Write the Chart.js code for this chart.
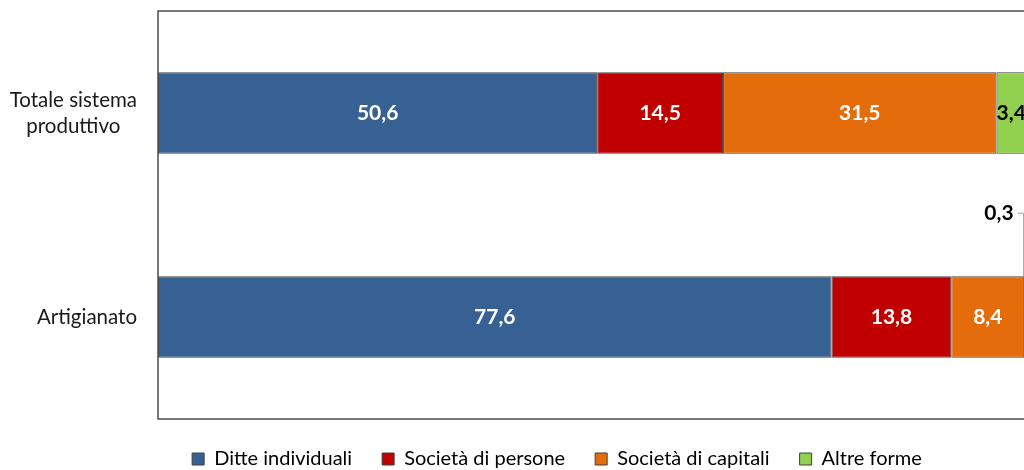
<!DOCTYPE html>
<html>
<head>
<meta charset="utf-8">
<script src="https://cdn.jsdelivr.net/npm/chart.js"></script>
<style>
  html, body { margin: 0; padding: 0; background: #fff; overflow: hidden; }
  #wrap { position: relative; width: 1110px; height: 470px; }
</style>
</head>
<body>
<div id="wrap"><canvas id="chart"></canvas></div>
<script>
// Chart data
const categories = [['Totale sistema', 'produttivo'], ['Artigianato']];
const seriesNames = ['Ditte individuali', 'Società di persone', 'Società di capitali', 'Altre forme'];
const ditteIndividuali = [50.6, 77.6];
const societaPersone = [14.5, 13.8];
const societaCapitali = [31.5, 8.4];
const altreForme = [3.4, 0.3];

const colors = ['#376193', '#C00000', '#E46C0A', '#92D050'];
const labelColors = ['#ffffff', '#ffffff', '#ffffff', '#000000'];
const FONT = 'Lato, Carlito, "Open Sans", sans-serif';

const fmt = v => v.toFixed(1).replace('.', ',');

// Border round the plot area
const frame = {
    id: 'frame',
    afterDatasetsDraw(chart) {
        const a = chart.chartArea;
        const ctx = chart.ctx;
        ctx.save();
        ctx.strokeStyle = '#4d4d4d';
        ctx.lineWidth = 1.5;
        ctx.strokeRect(a.left, a.top, a.right - a.left, a.bottom - a.top);
        ctx.restore();
    }
};

// Category labels, lines centred in a right-aligned block
const catLabels = {
    id: 'catLabels',
    afterDraw(chart) {
        const y = chart.scales.y;
        const ctx = chart.ctx;
        ctx.save();
        ctx.font = '20.5px ' + FONT;
        ctx.fillStyle = '#1a1a1a';
        ctx.textAlign = 'center';
        ctx.textBaseline = 'middle';
        const lh = 26;
        categories.forEach((lines, i) => {
            const cy = y.getPixelForTick(i);
            const w = Math.max(...lines.map(l => ctx.measureText(l).width));
            const cx = chart.chartArea.left - 21 - w / 2;
            lines.forEach((l, j) => {
                ctx.fillText(l, cx, cy + (j - (lines.length - 1) / 2) * lh);
            });
        });
        ctx.restore();
    }
};

// Value labels on the bars
const valueLabels = {
    id: 'valueLabels',
    afterDatasetsDraw(chart) {
        const ctx = chart.ctx;
        ctx.save();
        ctx.font = 'bold 21px ' + FONT;
        ctx.textBaseline = 'middle';
        chart.data.datasets.forEach((ds, di) => {
            chart.getDatasetMeta(di).data.forEach((bar, i) => {
                const v = ds.data[i];
                const cx = (bar.x + bar.base) / 2;
                ctx.fillStyle = labelColors[di];
                if (bar.x - bar.base < 15) {
                    // small slice: label above with a leader line
                    const top = bar.y - bar.height / 2;
                    const ly = top - 63;
                    ctx.fillStyle = '#000';
                    ctx.textAlign = 'right';
                    ctx.fillText(fmt(v), cx - 12, ly);
                    ctx.strokeStyle = '#a6a6a6';
                    ctx.lineWidth = 1;
                    ctx.beginPath();
                    ctx.moveTo(cx - 8, ly);
                    ctx.lineTo(cx - 2, ly);
                    ctx.lineTo(cx - 2, top);
                    ctx.stroke();
                } else {
                    ctx.textAlign = 'center';
                    ctx.fillText(fmt(v), cx, bar.y);
                }
            });
        });
        ctx.restore();
    }
};

const seriesData = [ditteIndividuali, societaPersone, societaCapitali, altreForme];

new Chart(document.getElementById('chart'), {
    type: 'bar',
    data: {
        labels: categories,
        datasets: seriesData.map((d, i) => ({
            label: seriesNames[i],
            data: d,
            backgroundColor: colors[i],
            borderColor: '#404040',
            borderWidth: 1,
            borderSkipped: false,
            categoryPercentage: 1,
            barPercentage: 0.4
        }))
    },
    options: {
        indexAxis: 'y',
        responsive: true,
        maintainAspectRatio: false,
        animation: false,
        layout: { padding: { top: 11, right: 84, left: 88, bottom: 0 } },
        scales: {
            x: {
                stacked: true,
                min: 0,
                max: 100,
                display: false
            },
            y: {
                stacked: true,
                grid: { display: false },
                border: { display: false },
                ticks: { display: false },
                afterFit: s => { s.width = 70; }
            }
        },
        plugins: {
            tooltip: { enabled: false },
            legend: {
                position: 'bottom',
                maxHeight: 51,
                labels: {
                    boxWidth: 12,
                    boxHeight: 12,
                    padding: 30,
                    color: '#1a1a1a',
                    font: { family: FONT, size: 20 },
                    generateLabels: chart => chart.data.datasets.map((ds, i) => ({
                        text: ds.label,
                        fillStyle: colors[i],
                        strokeStyle: '#404040',
                        lineWidth: 1,
                        datasetIndex: i
                    }))
                }
            }
        }
    },
    plugins: [frame, catLabels, valueLabels]
});
</script>
</body>
</html>
